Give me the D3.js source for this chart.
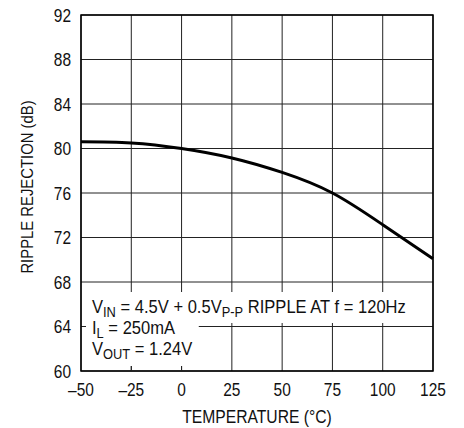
<!DOCTYPE html>
<html>
<head>
<meta charset="utf-8">
<script src="https://cdn.jsdelivr.net/npm/d3@7"></script>
<style>
  body { margin: 0; background: #fff; }
  svg text { font-family: "Liberation Sans", Arial, sans-serif; fill: #111; }
</style>
</head>
<body>
<div id="chart"></div>
<script>
// temperature (°C) and ripple rejection (dB)
let temps     = [-50, -25, 0, 25, 50, 75, 100, 125];
let rejection = [80.6, 80.5, 80.0, 79.15, 77.85, 76.0, 73.15, 70.1];

let xTicks = [-50, -25, 0, 25, 50, 75, 100, 125];
let yTicks = [60, 64, 68, 72, 76, 80, 84, 88, 92];

let canvasWidth  = 464;
let canvasHeight = 428;
let margin = { top: 15, right: 31, bottom: 57, left: 81 };
let width  = canvasWidth - margin.left - margin.right;
let height = canvasHeight - margin.top - margin.bottom;

let x = d3.scaleLinear().domain([-50, 125]).range([0, width]);
let y = d3.scaleLinear().domain([60, 92]).range([height, 0]);

let svg = d3.select("#chart").append("svg")
    .attr("width", canvasWidth)
    .attr("height", canvasHeight)
  .append("g")
    .attr("transform", "translate(" + margin.left + "," + margin.top + ")");

// the original type is a condensed grotesque: squeeze Liberation Sans horizontally
function place(px, py, sx, rot) {
  return "translate(" + px + "," + py + ")" + (rot ? " rotate(" + rot + ")" : "") + " scale(" + sx + ",1)";
}

// grid
let grid = svg.append("g").attr("class", "grid");
grid.selectAll("line.v").data(xTicks).enter().append("line")
    .attr("class", "v")
    .attr("x1", (d) => x(d)).attr("x2", (d) => x(d))
    .attr("y1", 0).attr("y2", height)
    .attr("stroke", "#222").attr("stroke-width", 1);
grid.selectAll("line.h").data(yTicks).enter().append("line")
    .attr("class", "h")
    .attr("x1", 0).attr("x2", width)
    .attr("y1", (d) => y(d)).attr("y2", (d) => y(d))
    .attr("stroke", "#222").attr("stroke-width", 1);

// curve
let line = d3.line()
  .x((d, i) => x(temps[i]))
  .y((d) => y(d))
  .curve(d3.curveNatural);

svg.append("path")
  .datum(rejection)
  .attr("fill", "none")
  .attr("stroke", "#000")
  .attr("stroke-width", 3)
  .attr("d", line);

// annotation with white knock-out behind it
let noteScale = 0.92;
let note = svg.append("g").attr("class", "note");
let noteBg = note.append("g");
let noteLines = [
  [["V", 0], ["IN", 1], [" = 4.5V + 0.5V", 0], ["P-P", 1], [" RIPPLE AT f = 120Hz", 0]],
  [["I", 0], ["L", 1], [" = 250mA", 0]],
  [["V", 0], ["OUT", 1], [" = 1.24V", 0]]
];
let texts = noteLines.map((parts, i) => {
  let t = note.append("text")
    .attr("transform", place(11, 298 + i * 21, noteScale))
    .attr("font-size", 18);
  let prevSub = 0;
  parts.forEach((p) => {
    let shift = (p[1] ? 4 : 0) - (prevSub ? 4 : 0);
    t.append("tspan")
      .attr("dy", shift)
      .attr("font-size", p[1] ? 14 : 18)
      .text(p[0]);
    prevSub = p[1];
  });
  return t;
});
let w0 = texts[0].node().getBBox().width * noteScale;
let w1 = Math.max(texts[1].node().getBBox().width, texts[2].node().getBBox().width) * noteScale;
noteBg.append("rect")
  .attr("x", 5).attr("y", 277)
  .attr("width", w0 + 14).attr("height", 31)
  .attr("fill", "#fff");
noteBg.append("rect")
  .attr("x", 5).attr("y", 308)
  .attr("width", w1 + 12).attr("height", height - 5 - 308)
  .attr("fill", "#fff");

// frame
svg.append("rect")
  .attr("width", width).attr("height", height)
  .attr("fill", "none").attr("stroke", "#000").attr("stroke-width", 1.5);

// short tick stubs at the bottom where the note covers the grid
svg.append("g")
  .selectAll("line").data(xTicks.filter((d) => x(d) > 0 && x(d) < w1 + 17)).enter().append("line")
    .attr("x1", (d) => x(d)).attr("x2", (d) => x(d))
    .attr("y1", height - 5).attr("y2", height)
    .attr("stroke", "#222");

// axes labels
svg.append("g")
  .selectAll("text").data(xTicks).enter().append("text")
    .attr("transform", (d) => place(x(d), height + 25, 0.86))
    .attr("text-anchor", "middle")
    .attr("font-size", 18)
    .text((d) => (d < 0 ? "\u2013" + Math.abs(d) : d));

svg.append("g")
  .selectAll("text").data(yTicks).enter().append("text")
    .attr("transform", (d) => place(-10, y(d) + 6.5, 0.86))
    .attr("text-anchor", "end")
    .attr("font-size", 18)
    .text((d) => d);

svg.append("text")
  .attr("transform", place(width / 2, height + 52, 0.87))
  .attr("text-anchor", "middle")
  .attr("font-size", 18)
  .text("TEMPERATURE (\u00B0C)");

svg.append("text")
  .attr("transform", place(-48, 172, 0.9, -90))
  .attr("text-anchor", "middle")
  .attr("font-size", 16.5)
  .text("RIPPLE REJECTION (dB)");
</script>
</body>
</html>
